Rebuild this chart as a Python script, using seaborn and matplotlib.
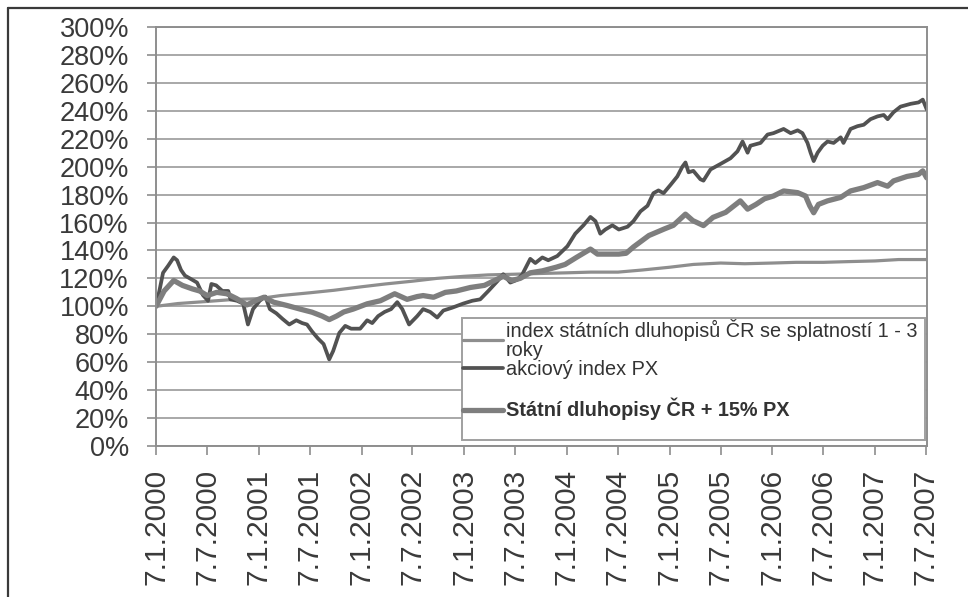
import matplotlib
matplotlib.use("Agg")
import matplotlib.pyplot as plt
import seaborn as sns
import pandas as pd
from matplotlib.lines import Line2D
from matplotlib.ticker import FuncFormatter, FixedLocator
import matplotlib.dates as mdates

# ---------------- data (values in %) ----------------
bond_dates = ["2000-01-07", "2000-03-25", "2000-07-07", "2000-10-01", "2001-01-07", "2001-03-25",
              "2001-07-07", "2001-10-01", "2002-01-07", "2002-04-01", "2002-07-07", "2002-10-01",
              "2003-01-07", "2003-04-01", "2003-07-07", "2003-10-01", "2004-01-07", "2004-04-01",
              "2004-07-07", "2004-10-01", "2005-01-07", "2005-04-01", "2005-07-07", "2005-10-01",
              "2006-01-07", "2006-04-01", "2006-07-07", "2006-10-01", "2007-01-07", "2007-04-01",
              "2007-07-10"]
bond_values = [100, 102, 103.5, 104.8, 105.5, 107.7, 109.7, 111.5, 114, 116, 118, 120,
               121.5, 122.5, 123, 123.5, 124, 124.5, 124.5, 126, 128, 130, 131, 130.5,
               131, 131.5, 131.5, 132, 132.5, 133.5, 133.5]

px_dates = ["2000-01-07", "2000-01-20", "2000-02-01", "2000-02-19", "2000-03-10", "2000-03-22",
            "2000-04-05", "2000-04-19", "2000-05-15", "2000-06-01", "2000-06-22", "2000-07-10",
            "2000-07-22", "2000-08-08", "2000-08-30", "2000-09-20", "2000-09-28", "2000-10-21",
            "2000-11-12", "2000-11-29", "2000-12-17", "2001-01-10", "2001-01-30", "2001-02-15",
            "2001-03-10", "2001-04-01", "2001-04-25", "2001-05-20", "2001-06-10", "2001-06-27",
            "2001-07-15", "2001-08-05", "2001-08-25", "2001-09-14", "2001-09-28", "2001-10-20",
            "2001-11-10", "2001-12-01", "2002-01-02", "2002-01-27", "2002-02-14", "2002-03-07",
            "2002-03-30", "2002-04-22", "2002-05-14", "2002-06-01", "2002-06-25", "2002-07-24",
            "2002-08-14", "2002-09-08", "2002-10-03", "2002-10-25", "2002-11-25", "2003-01-04",
            "2003-02-05", "2003-03-05", "2003-04-03", "2003-05-05", "2003-05-26", "2003-06-20",
            "2003-07-15", "2003-08-02", "2003-08-30", "2003-09-17", "2003-10-12", "2003-11-02",
            "2003-12-04", "2004-01-09", "2004-02-06", "2004-03-06", "2004-03-31", "2004-04-18",
            "2004-05-05", "2004-05-23", "2004-06-17", "2004-07-10", "2004-08-10", "2004-08-31",
            "2004-09-25", "2004-10-20", "2004-11-10", "2004-11-28", "2004-12-16", "2005-01-10",
            "2005-02-03", "2005-02-21", "2005-03-04", "2005-03-15", "2005-04-01", "2005-04-26",
            "2005-05-07", "2005-06-01", "2005-07-07", "2005-08-11", "2005-09-05", "2005-09-23",
            "2005-10-11", "2005-10-21", "2005-11-26", "2005-12-21", "2006-01-11", "2006-02-16",
            "2006-03-13", "2006-04-07", "2006-04-24", "2006-05-12", "2006-05-23", "2006-06-03",
            "2006-06-17", "2006-07-05", "2006-07-22", "2006-08-13", "2006-09-07", "2006-09-17",
            "2006-10-12", "2006-11-06", "2006-11-28", "2006-12-22", "2007-01-16", "2007-02-07",
            "2007-02-21", "2007-03-14", "2007-04-08", "2007-05-14", "2007-06-11", "2007-06-26",
            "2007-07-10"]
px_values = [100, 112, 124, 129, 135, 133,
             126, 122, 119, 117, 108, 104,
             116, 115, 111, 111, 105, 104,
             102, 87, 98, 104, 107, 98,
             95, 91, 87, 90, 88, 87,
             82, 77, 73, 62, 68, 81,
             86, 84, 84, 90, 88, 93,
             96, 98, 103, 98, 87, 93,
             98, 96, 92, 97, 99, 102,
             104, 105, 111, 118, 123, 117,
             119, 123, 134, 131, 135, 133,
             136, 143, 152, 158, 164, 161,
             152, 155, 158, 155, 157, 161,
             168, 172, 181, 183, 181, 187,
             193, 200, 203, 196, 197, 191,
             190, 198, 202, 206, 211, 218,
             210, 215, 217, 223, 224, 227,
             224, 226, 224, 217, 210, 204,
             210, 215, 218, 217, 221, 217,
             227, 229, 230, 234, 236, 237,
             234, 239, 243, 245, 246, 248,
             241]

mix_dates = ["2000-01-07", "2000-02-05", "2000-03-10", "2000-04-10", "2000-05-15", "2000-06-10",
             "2000-07-07", "2000-08-10", "2000-09-15", "2000-10-20", "2000-11-25", "2001-01-05",
             "2001-01-25", "2001-02-28", "2001-04-17", "2001-06-03", "2001-07-15", "2001-08-20",
             "2001-09-14", "2001-10-10", "2001-11-05", "2001-12-08", "2002-01-27", "2002-03-15",
             "2002-05-05", "2002-06-18", "2002-07-24", "2002-08-14", "2002-09-20", "2002-11-01",
             "2002-12-10", "2003-01-29", "2003-03-20", "2003-04-20", "2003-05-26", "2003-06-25",
             "2003-07-25", "2003-08-30", "2003-10-12", "2003-11-30", "2004-01-01", "2004-02-10",
             "2004-03-31", "2004-04-25", "2004-05-25", "2004-07-10", "2004-08-05", "2004-08-31",
             "2004-10-25", "2004-12-20", "2005-01-20", "2005-03-04", "2005-03-30", "2005-05-07",
             "2005-06-10", "2005-07-25", "2005-09-15", "2005-10-11", "2005-11-10", "2005-12-10",
             "2006-01-11", "2006-02-16", "2006-04-07", "2006-05-05", "2006-05-20", "2006-06-03",
             "2006-06-20", "2006-07-22", "2006-09-07", "2006-10-12", "2006-11-28", "2007-01-16",
             "2007-02-21", "2007-03-14", "2007-05-01", "2007-06-11", "2007-06-26", "2007-07-10"]
mix_values = [100, 111, 118.5, 115, 112.5, 111,
              107.7, 110, 109, 105.5, 101, 105,
              106.5, 103, 100.6, 98, 95.8, 93,
              90.5, 93, 96, 98, 101.8, 104,
              109, 105, 107, 107.7, 106.5, 110,
              111, 113.5, 115, 118, 121.5, 118.5,
              120, 124, 125.4, 128, 130, 135,
              141, 137.4, 137.4, 137.4, 138, 142.5,
              150.7, 155.5, 158, 166, 161.4, 157.8,
              163.7, 167.3, 175.5, 169.6, 173, 177,
              179, 182.6, 181.4, 179, 172, 167,
              173, 175.5, 178, 182.6, 185, 188.6,
              186, 189.8, 193, 194.5, 197, 192]

series_labels = ["index státních dluhopisů ČR se splatností 1 - 3\nroky",
                 "akciový index PX",
                 "\nStátní dluhopisy ČR + 15% PX\n"]
tick_dates = ["2000-01-07", "2000-07-07", "2001-01-07", "2001-07-07", "2002-01-07", "2002-07-07",
              "2003-01-07", "2003-07-07", "2004-01-07", "2004-07-07", "2005-01-07", "2005-07-07",
              "2006-01-07", "2006-07-07", "2007-01-07", "2007-07-07"]
y_ticks = list(range(0, 301, 20))

# ---------------- figure ----------------
sns.set_theme(style="white")
plt.rcParams["font.family"] = ["Liberation Sans", "DejaVu Sans"]

W, H = 968, 597
fig = plt.figure(figsize=(W / 100, H / 100), dpi=100)
fig.patch.set_facecolor("white")
L, R, T, B = 156, 927, 27, 446
ax = fig.add_axes([L / W, 1 - B / H, (R - L) / W, (B - T) / H])

bond_df = pd.DataFrame({"date": pd.to_datetime(bond_dates), "value": bond_values})
px_df = pd.DataFrame({"date": pd.to_datetime(px_dates), "value": px_values})
mix_df = pd.DataFrame({"date": pd.to_datetime(mix_dates), "value": mix_values})

sns.lineplot(data=bond_df, x="date", y="value", ax=ax, color="#8e8e8e", linewidth=2.3,
             label=series_labels[0])
sns.lineplot(data=px_df, x="date", y="value", ax=ax, color="#525252", linewidth=2.7,
             label=series_labels[1])
sns.lineplot(data=mix_df, x="date", y="value", ax=ax, color="#7e7e7e", linewidth=3.8,
             label=series_labels[2])

ax.set_xlim(pd.Timestamp("2000-01-07"), pd.Timestamp("2007-07-11"))
ax.set_ylim(0, 300)
ax.set_xlabel("")
ax.set_ylabel("")

ticks = pd.to_datetime(tick_dates)
ax.xaxis.set_major_locator(FixedLocator(mdates.date2num(ticks)))
ax.set_xticklabels([f"{d.day}.{d.month}.{d.year}" for d in ticks], rotation=90)
ax.set_yticks(y_ticks)
ax.yaxis.set_major_formatter(FuncFormatter(lambda v, p: f"{int(round(v))}%"))

ax.set_axisbelow(True)
ax.yaxis.grid(True, color="#a8a8a8", linewidth=1.4)
ax.xaxis.grid(False)
for s in ax.spines.values():
    s.set_color("#8e8e8e")
    s.set_linewidth(1.4)

ax.tick_params(axis="both", which="major", bottom=True, left=True, direction="out",
               length=6.5, width=1.2, color="#8e8e8e", labelcolor="#3a3a3a")
ax.tick_params(axis="y", labelsize=19.5, pad=13)
ax.tick_params(axis="x", labelsize=21.5, pad=10)

leg = ax.legend(loc="upper left",
                bbox_to_anchor=(462 / W, 1 - 437 / H, (925 - 462) / W, (437 - 318) / H),
                bbox_transform=fig.transFigure, mode="expand", borderaxespad=0,
                frameon=True, fancybox=False, framealpha=1, edgecolor="#a0a0a0",
                facecolor="white", fontsize=14.3, handlelength=2.0, handletextpad=0.15,
                labelspacing=0.0, borderpad=0.05)
leg.get_frame().set_linewidth(1.4)
for t in leg.get_texts():
    t.set_color("#333333")
    t.set_linespacing(1.0)
leg.get_texts()[2].set_fontweight("bold")

# outer frame (left and top edges)
fig.add_artist(Line2D([8 / W, 8 / W], [0, 1 - 8 / H], color="#3a3a3a", linewidth=1.6,
                      transform=fig.transFigure))
fig.add_artist(Line2D([8 / W, 1], [1 - 8 / H, 1 - 8 / H], color="#3a3a3a", linewidth=1.6,
                      transform=fig.transFigure))

fig.savefig("out.png", dpi=100)
